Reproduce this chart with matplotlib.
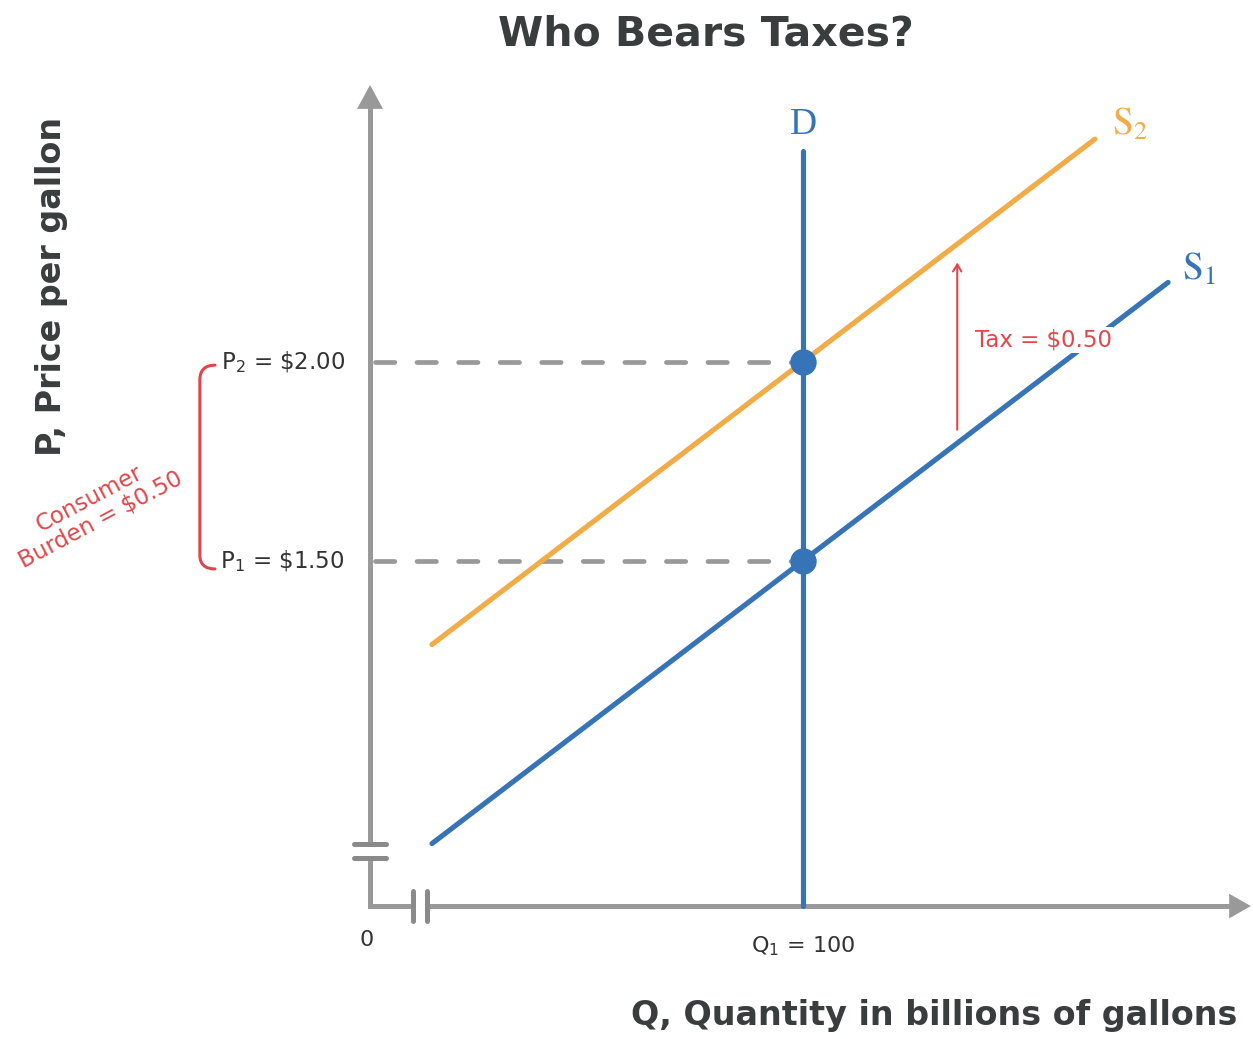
import matplotlib.pyplot as plt
from matplotlib.path import Path
from matplotlib.patches import PathPatch

# equilibrium values
q_eq = 100
p1 = 1.50
p2 = 2.00
tax = 0.50

# supply / demand lines (end points)
s1_q = [14.3, 184.3]
s1_p = [0.79, 2.20]
s2_q = [14.3, 167.4]
s2_p = [1.29, 2.56]
d_q = [100, 100]
d_p = [0.633, 2.53]

# tax arrow, drawn between the two supply curves
tax_q = 135.6
tax_p = [1.83, 2.25]

# axis geometry (broken axes)
p_axis0 = 0.633
p_top = 2.696
q_right = 203.4

BLUE = '#3673b7'
ORANGE = '#f1ac48'
GRAY = '#999999'
RED = '#e0474c'
DARK = '#3a3d3d'

plt.rcParams['font.family'] = ['DejaVu Sans']

fig = plt.figure(figsize=(12.53, 10.39), dpi=100)
ax = fig.add_axes([0, 0, 1, 1])
ax.set_xlim(-85.45, 203.9)
ax.set_ylim(0.299, 2.9095)
ax.axis('off')

# --- axes ---
ax.plot([0, 0, 9.9], [0.754, p_axis0, p_axis0], color=GRAY, lw=3.6,
        solid_joinstyle='miter', solid_capstyle='butt')
ax.plot([0, 0], [0.789, p_top - 0.055], color=GRAY, lw=3.6, solid_capstyle='butt')
ax.fill([-3.0, 3.0, 0], [p_top - 0.06, p_top - 0.06, p_top], color=GRAY, lw=0)
ax.plot([13.2, q_right - 4.8], [p_axis0, p_axis0], color=GRAY, lw=3.6, solid_capstyle='butt')
ax.fill([q_right - 5.0, q_right - 5.0, q_right], [p_axis0 - 0.031, p_axis0 + 0.031, p_axis0],
        color=GRAY, lw=0)
# break marks
for pb in [0.754, 0.789]:
    ax.plot([-3.7, 3.7], [pb, pb], color='#8a8a8a', lw=3.6, solid_capstyle='round')
for qb in [9.9, 13.2]:
    ax.plot([qb, qb], [p_axis0 - 0.037, p_axis0 + 0.037], color='#8a8a8a', lw=3.6,
            solid_capstyle='round')

# --- dashed price guides ---
for p in [p2, p1]:
    ax.plot([1.2, q_eq], [p, p], color=GRAY, lw=3.4, dashes=(4.1, 4.7),
            dash_capstyle='round', zorder=2)

# --- curves ---
ax.plot(s2_q, s2_p, color=ORANGE, lw=3.7, solid_capstyle='round', zorder=3)
ax.plot(s1_q, s1_p, color=BLUE, lw=3.7, solid_capstyle='round', zorder=3)
ax.plot(d_q, d_p, color=BLUE, lw=3.7, solid_capstyle='round', zorder=4)
ax.plot([q_eq, q_eq], [p2, p1], 'o', color=BLUE, ms=18, zorder=5)

# --- curve labels ---
ax.text(q_eq, 2.595, 'D', color=BLUE, fontsize=27, ha='center', va='center',
        family='Liberation Serif')
ax.text(175.5, 2.595, r'$\mathrm{S}_2$', color=ORANGE, fontsize=27, ha='center',
        va='center', math_fontfamily='stix')
ax.text(191.5, 2.231, r'$\mathrm{S}_1$', color=BLUE, fontsize=27, ha='center',
        va='center', math_fontfamily='stix')

# --- tax arrow ---
ax.annotate('', xy=(tax_q, tax_p[1]), xytext=(tax_q, tax_p[0]),
            arrowprops=dict(arrowstyle='->,head_length=0.5,head_width=0.3',
                            color=RED, lw=1.5, shrinkA=0, shrinkB=0))
ax.text(139.7, 2.055, r'Tax = \$0.50', color=RED, fontsize=16.5, ha='left',
        va='center', zorder=6,
        bbox=dict(facecolor='white', edgecolor='none', pad=1))

# --- price / quantity labels ---
ax.text(-5.8, p2, r'P$_2$ = \$2.00', fontsize=16.5, color='#333333', ha='right',
        va='center', clip_on=False)
ax.text(-5.8, p1, r'P$_1$ = \$1.50', fontsize=16.5, color='#333333', ha='right',
        va='center', clip_on=False)
ax.text(-0.9, 0.548, '0', fontsize=16, color='#333333', ha='center', va='center')
ax.text(q_eq, 0.533, r'Q$_1$ = 100', fontsize=16, color='#333333', ha='center',
        va='center')

# --- consumer burden bracket ---
bx, hx = -39.3, -35.8
verts = [(hx, p2 - 0.008), (bx, p2 - 0.008), (bx, p2 - 0.045),
         (bx, p1 + 0.015), (bx, p1 - 0.02), (hx, p1 - 0.02)]
codes = [Path.MOVETO, Path.CURVE3, Path.CURVE3, Path.LINETO, Path.CURVE3, Path.CURVE3]
ax.add_patch(PathPatch(Path(verts, codes), fill=False, edgecolor=RED, lw=2.2,
                       capstyle='round'))
ax.text(-63.5, 1.63, 'Consumer\n' + r'Burden = \$0.50', color=RED, fontsize=16.5,
        ha='center', va='center', rotation=28, linespacing=1.0,
        rotation_mode='anchor', multialignment='center')

# --- titles ---
fig.text(706 / 1253, 1 - 35 / 1039, 'Who Bears Taxes?', fontsize=29.5,
         fontweight='bold', color=DARK, ha='center', va='center')
fig.text(52 / 1253, 1 - 286 / 1039, 'P, Price per gallon', fontsize=24,
         fontweight='bold', color=DARK, ha='center', va='center', rotation=90)
fig.text(1237 / 1253, 1 - 1015 / 1039, 'Q, Quantity in billions of gallons',
         fontsize=24, fontweight='bold', color=DARK, ha='right', va='center')

fig.savefig('out.png', dpi=100, facecolor='white')
